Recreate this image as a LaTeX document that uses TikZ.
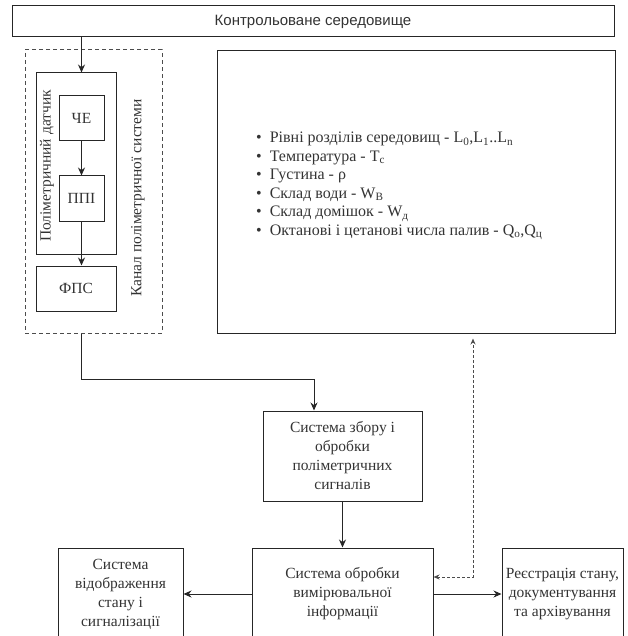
\documentclass[tikz,border=0pt]{standalone}
\usepackage{fontspec}
\setmainfont{Liberation Serif}
\setsansfont{Liberation Sans}
\usepackage{tikz}
\usetikzlibrary{positioning, arrows.meta}
\tikzset{
>={Stealth[length=8pt,width=7pt]}, % filled arrow heads
every node/.style={font=\fontsize{15.5}{19}\selectfont, text=black!80}, % serif text everywhere
block/.style={draw=black!85, line width=1pt, align=center, inner sep=2pt}, % plain boxes
group/.style={draw=black!70, line width=1pt, dash pattern=on 4pt off 3pt}, % dashed channel frame
link/.style={->, line width=1pt, draw=black!85}, % solid connectors
backlink/.style={{Stealth[length=6pt,width=5pt]}-{Stealth[length=6pt,width=5pt]}, line width=1pt, draw=black!70, dash pattern=on 2.5pt off 2.5pt, shorten >=5pt}, % dotted feedback
}

\begin{document}
\begin{tikzpicture}[x=1pt, y=-1pt]
            \useasboundingbox (0,0) rectangle (627,636);
            \clip (0,0) rectangle (627,636);
            % environment and channel
            \node[block, minimum width=602, minimum height=31, font=\sffamily\fontsize{15}{18}\selectfont] (env) at (313,21.5) {Контрольоване середовище};
            \node[group, minimum width=137, minimum height=283] (chan) at (93.5,191.5) {};
            \node[block, minimum width=80, minimum height=181] (sensor) at (76,163.5) {};
            \node[block, minimum size=45] (che) at (81.5,118.5) {ЧЕ};
            \node[block, minimum size=45, below=34pt of che] (ppi) {ППІ};
            \node[block, minimum width=80, minimum height=45, below=11pt of sensor] (fps) {ФПС};
            \node[rotate=90] (sensorlbl) at (47,166) {Поліметричний датчик};
            \node[rotate=90] (chanlbl) at (138,198) {Канал поліметричної системи};
            % measured parameters
            \node[block, minimum width=398, minimum height=282] (params) at (416,192) {};
            \node[anchor=west, align=left, inner sep=0pt, font=\fontsize{16}{18.5}\selectfont] (plist) at (256,186) {%
                \textbullet\hspace{8pt}Рівні розділів середовищ - L\textsubscript{0},L\textsubscript{1}..L\textsubscript{n}\\
                \textbullet\hspace{8pt}Температура - T\textsubscript{c}\\
                \textbullet\hspace{8pt}Густина - ρ\\
                \textbullet\hspace{8pt}Склад води - W\textsubscript{В}\\
                \textbullet\hspace{8pt}Склад домішок - W\textsubscript{д}\\
                \textbullet\hspace{8pt}Октанові і цетанові числа палив - Q\textsubscript{о},Q\textsubscript{ц}};
            % processing chain
            \node[block, minimum width=181, minimum height=92] (proc) at (342.5,594) {Система обробки\\вимірювальної\\інформації};
            \node[block, minimum width=159, minimum height=90, above=46pt of proc] (collect) {Система збору і\\обробки\\поліметричних\\сигналів};
            \node[block, minimum width=125, minimum height=92, left=68pt of proc] (disp) {Система\\відображення\\стану і\\сигналізації};
            \node[block, minimum width=121, minimum height=92, right=68pt of proc] (reg) {Реєстрація стану,\\документування\\та архівування};
            \coordinate (turn) at (314,379);
            \coordinate (loopc) at (473,577);
            \draw[link] (che |- env.south) -- (che |- sensor.north);
            \draw[link] (che) -- (ppi);
            \draw[link] (ppi.south) -- (ppi |- fps.north);
            \draw[link] (ppi |- chan.south) |- (turn) -- (turn |- collect.north);
            \draw[link] (collect) -- (proc);
            \draw[link] (proc) -- (disp);
            \draw[link] (proc) -- (reg);
            \draw[backlink] (proc.east |- loopc) -- (loopc) -- (loopc |- params.south);
\end{tikzpicture}
\end{document}
